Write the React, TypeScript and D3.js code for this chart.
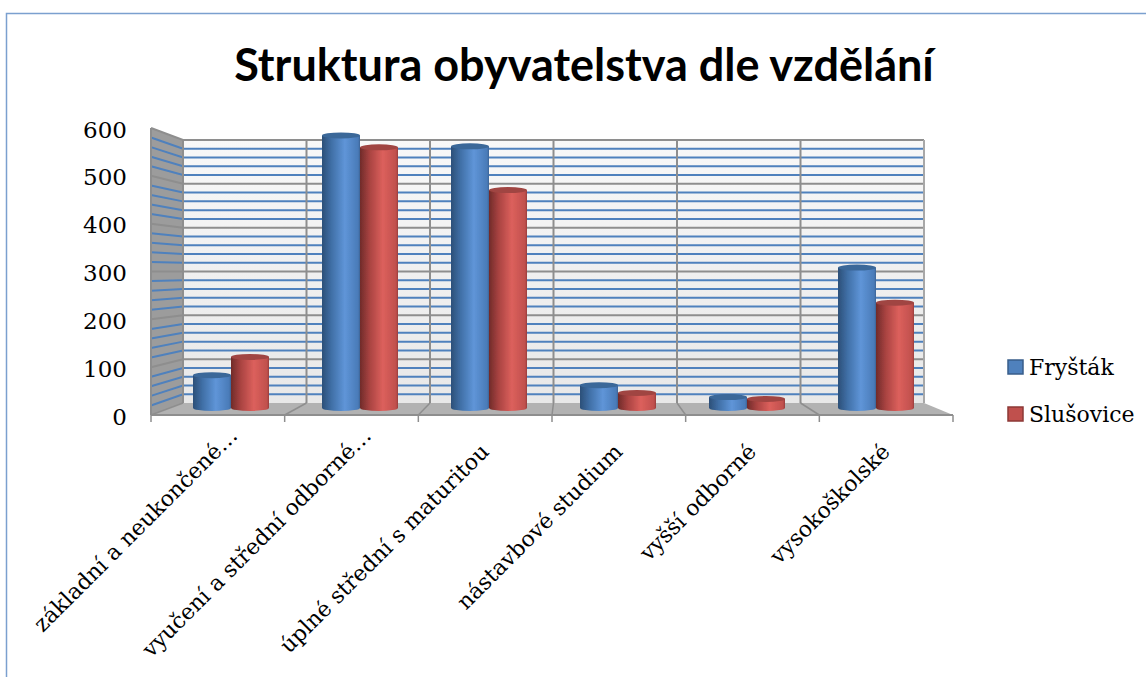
import React from "react";
import * as d3 from "d3";

const categories = [
  "základní a neukončené…",
  "vyučení a střední odborné…",
  "úplné střední s maturitou",
  "nástavbové studium",
  "vyšší odborné",
  "vysokoškolské",
];
const frystak = [72, 598, 574, 50, 24, 308];
const slusovice = [112, 572, 478, 33, 20, 231];
const seriesNames = ["Fryšták", "Slušovice"];
const yTickValues = [0, 100, 200, 300, 400, 500, 600];
const gridValues = d3.range(0, 601, 20);

const width = 1146,
  height = 677;
const serif = "'DejaVu Serif', serif";

export default function App() {
  // front edge of the floor, back wall, and the plane the bars stand in
  const frontX = d3.scaleBand<string>().domain(categories).range([151, 953]);
  const backX = d3.scaleBand<string>().domain(categories).range([183, 924]);
  const barX = d3.scaleBand<string>().domain(categories).range([166.5, 940.5]);
  const frontY = d3.scaleLinear().domain([0, 600]).range([415, 128]);
  const backY = d3.scaleLinear().domain([0, 600]).range([403, 140]);
  const barY = d3.scaleLinear().domain([0, 600]).range([408, 134.5]);
  const barW = 38;

  const cylinder = (value: number, cx: number, fill: string, top: string) => (
    <g>
      <ellipse cx={cx} cy={barY(0)} rx={barW / 2} ry={3} fill={fill} />
      <rect x={cx - barW / 2} y={barY(value)} width={barW} height={barY(0) - barY(value)} fill={fill} />
      <ellipse cx={cx} cy={barY(value)} rx={barW / 2} ry={3} fill={top} />
    </g>
  );

  return (
    <svg
      width={width}
      height={height}
      style={{ position: "absolute", left: 0, top: 0 }}
    >
      <defs>
        <linearGradient id="blueBar">
          <stop offset="0" stopColor="#2c4f78" />
          <stop offset="0.25" stopColor="#406fa6" />
          <stop offset="0.6" stopColor="#5f95d8" />
          <stop offset="0.95" stopColor="#4a7bb8" />
          <stop offset="1" stopColor="#3c6596" />
        </linearGradient>
        <linearGradient id="redBar">
          <stop offset="0" stopColor="#702b29" />
          <stop offset="0.25" stopColor="#a84341" />
          <stop offset="0.6" stopColor="#dc605c" />
          <stop offset="0.95" stopColor="#c0504d" />
          <stop offset="1" stopColor="#983d3a" />
        </linearGradient>
        <linearGradient id="wall" x1="0" x2="0" y1="0" y2="1">
          <stop offset="0" stopColor="#f8f8f8" />
          <stop offset="1" stopColor="#e8e8e8" />
        </linearGradient>
        <filter id="soft" x="-5%" y="-5%" width="110%" height="110%">
          <feGaussianBlur stdDeviation="0.5" />
        </filter>
      </defs>

      <rect width={width} height={height} fill="white" />
      {/* ramecek */}
      <path d={`M6.5,${height}V13.5H${width}`} fill="none" stroke="#7ba0cf" strokeWidth={1.5} />

      <text
        x={584}
        y={81}
        textAnchor="middle"
        fontFamily="Lato, sans-serif"
        fontWeight={700}
        fontSize={45}
        fill="black"
      >
        Struktura obyvatelstva dle vzdělání
      </text>

      <g filter="url(#soft)">
        {/* steny */}
        <polygon
          points={`${frontX.range()[0]},${frontY(600)} ${backX.range()[0]},${backY(600)} ${backX.range()[0]},${backY(0)} ${frontX.range()[0]},${frontY(0)}`}
          fill="#9c9c9c"
        />
        <rect
          x={backX.range()[0]}
          y={backY(600)}
          width={backX.range()[1] - backX.range()[0]}
          height={backY(0) - backY(600)}
          fill="url(#wall)"
        />
        <polygon
          points={`${frontX.range()[0]},${frontY(0)} ${backX.range()[0]},${backY(0)} ${backX.range()[1]},${backY(0)} ${frontX.range()[1]},${frontY(0)}`}
          fill="#b2b2b2"
        />

        {/* mrizka */}
        {gridValues
          .filter((v) => v > 0)
          .map((v) => {
            const major = v % 100 === 0;
            return (
              <polyline
                key={v}
                points={`${frontX.range()[0]},${frontY(v)} ${backX.range()[0]},${backY(v)} ${backX.range()[1]},${backY(v)}`}
                fill="none"
                stroke={major ? "#8e8e8e" : "#4f81bd"}
                strokeWidth={2}
              />
            );
          })}
        {categories.map((c) => (
          <g key={c}>
            <line
              x1={backX(c)}
              x2={backX(c)}
              y1={backY(600)}
              y2={backY(0)}
              stroke="#8e8e8e"
              strokeWidth={2}
            />
            <line
              x1={backX(c)}
              x2={frontX(c)}
              y1={backY(0)}
              y2={frontY(0)}
              stroke="#8e8e8e"
              strokeWidth={1.5}
            />
          </g>
        ))}
        <line
          x1={backX.range()[1]}
          x2={backX.range()[1]}
          y1={backY(600)}
          y2={backY(0)}
          stroke="#a8a8a8"
          strokeWidth={2}
        />
        <line
          x1={frontX.range()[0]}
          x2={frontX.range()[0]}
          y1={frontY(600)}
          y2={frontY(0)}
          stroke="#8e8e8e"
          strokeWidth={2}
        />

        {/* osa x */}
        <line
          x1={frontX.range()[0]}
          x2={frontX.range()[1]}
          y1={frontY(0)}
          y2={frontY(0)}
          stroke="#8e8e8e"
          strokeWidth={2}
        />
        {[...categories.map((c) => frontX(c) as number), frontX.range()[1]].map((x) => (
          <line key={x} x1={x} x2={x} y1={frontY(0)} y2={frontY(0) + 7} stroke="#8e8e8e" strokeWidth={1.5} />
        ))}

        {/* sloupce */}
        {categories.map((c, i) => {
          const center = (barX(c) as number) + barX.bandwidth() / 2;
          return (
            <g key={c}>
              {cylinder(frystak[i], center - barW / 2, "url(#blueBar)", "#3a6799")}
              {cylinder(slusovice[i], center + barW / 2, "url(#redBar)", "#a04542")}
            </g>
          );
        })}
      </g>

      {/* popisky */}
      {yTickValues.map((v) => (
        <text
          key={v}
          x={127}
          y={frontY(v)}
          dy="0.42em"
          textAnchor="end"
          fontFamily={serif}
          fontSize={23}
          fill="black"
        >
          {v}
        </text>
      ))}
      {categories.map((c) => {
        // zkracene popisky koncí dal od osy
        const shift = c.endsWith("…") ? 16 : 0;
        const x = (frontX(c) as number) + frontX.bandwidth() / 2 + 5 + shift;
        const y = frontY(0) + 38 - shift;
        return (
          <text
            key={c}
            transform={`translate(${x},${y}) rotate(-45)`}
            textAnchor="end"
            fontFamily={serif}
            fontSize={22}
            fill="black"
          >
            {c}
          </text>
        );
      })}

      {/* legenda */}
      {seriesNames.map((name, i) => (
        <g key={name}>
          <rect
            x={1008}
            y={360 + i * 47}
            width={15}
            height={14}
            fill={i === 0 ? "#4f81bd" : "#c0504d"}
            stroke={i === 0 ? "#385d8a" : "#8c3836"}
            strokeWidth={1.5}
          />
          <text x={1029} y={375 + i * 47} fontFamily={serif} fontSize={22} fill="black">
            {name}
          </text>
        </g>
      ))}
    </svg>
  );
}
